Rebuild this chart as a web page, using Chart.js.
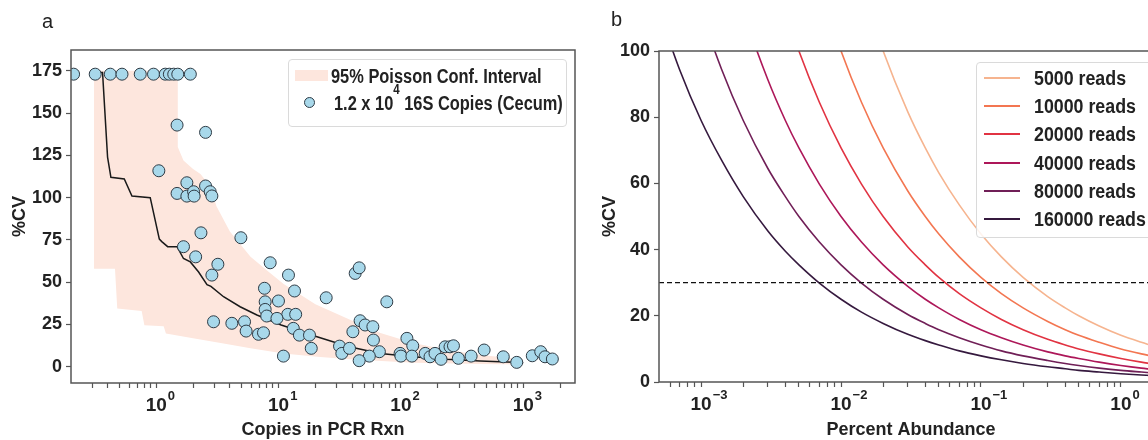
<!DOCTYPE html>
<html>
<head>
<meta charset="utf-8">
<script src="https://cdn.jsdelivr.net/npm/chart.js@4.4.1/dist/chart.umd.min.js"></script>
<style>
  body { margin:0; width:1148px; height:440px; overflow:hidden; background:#fff; position:relative;
         font-family:"Liberation Sans",Arial,sans-serif; }
  .wrap { position:absolute; top:0; height:440px; }
  .tag { position:absolute; font:20px "Liberation Sans",Arial,sans-serif; color:#222; }
  .legend { position:absolute; background:rgba(255,255,255,0.85); border:1px solid #dadada; border-radius:4px; box-sizing:border-box; }
  .txt { position:absolute; font-weight:bold; font-size:20px; line-height:20px; color:#222; white-space:nowrap;
         transform-origin:left center; }
  .txt sup { font-size:14px; position:relative; top:-4px; vertical-align:top; line-height:0; }
  .patch { position:absolute; width:33px; height:11px; background:#fde6dd; }
  .dot { position:absolute; width:11px; height:11px; border-radius:50%; background:#a8d8ea; border:1px solid #2e3b45; box-sizing:border-box; }
  .ln { position:absolute; width:36px; height:2px; }
</style>
</head>
<body>
<div class="wrap" style="left:0;width:590px"><canvas id="chartA"></canvas></div>
<div class="wrap" style="left:600px;width:600px"><canvas id="chartB"></canvas></div>
<div class="tag" style="left:42px;top:10px">a</div>
<div class="tag" style="left:611px;top:8px">b</div>

<div class="legend" style="left:288px;top:59px;width:279px;height:68px">
  <div class="patch" style="left:6px;top:10px"></div>
  <div class="txt" style="left:42px;top:6px;transform:scaleX(0.82)">95% Poisson Conf. Interval</div>
  <div class="dot" style="left:15px;top:37px"></div>
  <div class="txt" style="left:45px;top:33px;transform:scaleX(0.82)">1.2 x 10<sup>4</sup> 16S Copies (Cecum)</div>
</div>

<div class="legend" id="legB" style="left:976px;top:62px;width:200px;height:176px"></div>

<script>
// panel a : scatter of %CV vs copies
var topRowX = [0.211, 0.317, 0.421, 0.525, 0.74, 0.95, 1.185, 1.28, 1.39, 1.5, 1.9];
var copiesX = topRowX.concat([
  1.48, 2.53, 1.05, 1.78, 1.48, 1.78, 2.02, 2.04, 2.53, 2.76, 2.85,
  2.32, 4.92, 1.67, 2.10, 3.19, 2.85, 8.54, 12.05, 13.5, 7.67, 24.5,
  9.98, 7.77, 7.77, 11.9, 13.8, 8.0, 9.7, 2.94, 4.15, 5.27, 5.43,
  6.85, 7.53, 13.2, 14.8, 17.9, 18.5, 10.96, 31.5, 32.9, 38, 42.3,
  45.6, 76.7, 46.4, 51, 59, 40.5, 59.6, 66.7, 55.2, 45.6, 98.5, 100,
  112, 125, 123, 158, 173, 190, 213, 230, 252, 269, 295, 375, 479,
  687, 885, 1186, 1390, 1507, 1730]);
var cvA = [173, 173, 173, 173, 173, 173, 173, 173, 173, 173, 173,
  142.9, 138.6, 115.9, 108.8, 102.5, 100.9, 103.5, 100.9, 106.9, 103.5, 101,
  79.2, 76.3, 71, 65, 60.6, 54.2, 61.5, 54.2, 44.8, 46.4, 40.8,
  38.9, 38.4, 33.9, 31, 31, 30, 28.6, 26.6, 25.7, 26.6, 21.1,
  19.2, 20.1, 22.7, 18.7, 18.7, 10.9, 6.3, 12.2, 7.9, 10.9, 55.2,
  58.5, 38.4, 27.2, 24.7, 23.7, 20.7, 15.8, 8.9, 6.3, 3.6, 7.9, 6.3,
  16.8, 12.4, 6.3, 7.9, 5.9, 7.9, 4.4, 11.8, 11.8, 12.4, 5, 6.3, 9.9,
  5.9, 2.6, 6.5, 8.9, 5.9, 4.6];

var medianX = [0.318, 0.364, 0.40, 0.426, 0.548, 0.633, 0.893, 1.06, 1.11, 1.24, 1.48, 1.67, 1.9, 2.22,
  2.6, 2.8, 3.55, 4.85, 6.65, 10.5, 20, 37, 68, 126, 237, 444, 830, 1000];
var medianY = [174, 174, 124, 112, 111, 101, 100, 75.5, 74, 71, 71, 64, 62, 56,
  48.5, 47.5, 41.4, 35.5, 30.6, 24.7, 18, 12, 7.9, 5.9, 4.4, 3.4, 2.6, 2.4];

var bandHiX = [0.31, 1.5, 1.5, 1.67, 2.0, 2.3, 2.8, 3.1, 4.0, 5.9, 8.0, 11, 20, 38, 68, 126, 237, 444, 830, 1000];
var bandHiY = [175, 175, 130, 122, 117, 114, 106, 95, 80, 65, 57, 49, 37, 28, 20, 14, 10, 7, 5, 4.4];
var bandLoX = [0.31, 0.46, 0.48, 0.76, 0.8, 1.15, 1.2, 2.0, 3.55, 5.9, 11, 20.6, 38.5, 126, 444, 1000];
var bandLoY = [58, 58, 34.5, 33, 24.6, 24, 19.7, 16.8, 13.8, 10.9, 7.9, 5.9, 4.4, 2.4, 1.6, 1.3];

var cvTicksA = [0, 25, 50, 75, 100, 125, 150, 175];

// panel b : %CV vs percent abundance for read depths
var abundance = [0.0005, 0.0007, 0.001, 0.0014, 0.002, 0.003, 0.004, 0.005, 0.007, 0.01, 0.014, 0.02, 0.03,
  0.04, 0.05, 0.07, 0.1, 0.14, 0.2, 0.3, 0.4, 0.5, 0.7, 1, 1.4, 2];
var readLabels = ['5000 reads', '10000 reads', '20000 reads', '40000 reads', '80000 reads', '160000 reads'];
var cv5k   = [null, null, null, null, null, null, null, null, 169, 141, 119.5, 100, 81.6, 70.7, 63.2, 53.5, 44.7, 37.8, 31.6, 25.8, 22.4, 20, 16.9, 14.1, 12.0, 10];
var cv10k  = [null, null, null, null, null, null, 158, 141, 119.5, 100, 84.5, 70.7, 57.7, 50, 44.7, 37.8, 31.6, 26.7, 22.4, 18.3, 15.8, 14.1, 12.0, 10, 8.5, 7.1];
var cv20k  = [null, null, null, null, 158, 129, 112, 100, 84.5, 70.7, 59.8, 50, 40.8, 35.4, 31.6, 26.7, 22.4, 18.9, 15.8, 12.9, 11.2, 10, 8.5, 7.1, 6.0, 5.0];
var cv40k  = [null, null, 158, 134, 112, 91.3, 79, 70.7, 59.8, 50, 42.3, 35.4, 28.9, 25, 22.4, 18.9, 15.8, 13.4, 11.2, 9.1, 7.9, 7.1, 6.0, 5.0, 4.2, 3.5];
var cv80k  = [null, 134, 112, 94.5, 79, 64.5, 56, 50, 42.3, 35.4, 29.9, 25, 20.4, 17.7, 15.8, 13.4, 11.2, 9.4, 7.9, 6.5, 5.6, 5.0, 4.2, 3.5, 3.0, 2.5];
var cv160k = [112, 94.5, 79, 67, 56, 45.6, 39.5, 35.4, 29.9, 25, 21.1, 17.7, 14.4, 12.5, 11.2, 9.4, 7.9, 6.7, 5.6, 4.6, 4.0, 3.5, 3.0, 2.5, 2.1, 1.8];
var readColors = ['#f6b48f', '#f37651', '#e13342', '#ad1759', '#701f57', '#35193e'];
var thresholdX = [0.0005, 2];
var thresholdY = [30, 30];
var cvTicksB = [0, 20, 40, 60, 80, 100];

var FAM = '"Liberation Sans", Arial, sans-serif';
Chart.defaults.font.family = FAM;
Chart.defaults.color = '#222';

function pts(xs, ys) {
  return xs.map(function (x, i) { return { x: x, y: ys[i] }; });
}
function decade(v) {
  var l = Math.log10(v);
  return Math.abs(l - Math.round(l)) < 1e-6 ? Math.round(l) : null;
}
function logTicks(min, max) {
  var out = [];
  for (var e = Math.floor(Math.log10(min)); e <= Math.ceil(Math.log10(max)); e++) {
    for (var m = 1; m < 10; m++) {
      var v = parseFloat((m * Math.pow(10, e)).toPrecision(6));
      if (v > min * 1.001 && v < max * 0.999) out.push({ value: v });
    }
  }
  return out;
}

// box round the plot area + the exponents of the "10" tick labels
var frame = {
  id: 'frame',
  afterDraw: function (chart) {
    var a = chart.chartArea, c = chart.ctx, s = chart.scales.x;
    c.save();
    c.strokeStyle = '#555';
    c.lineWidth = 1.5;
    c.strokeRect(a.left, a.top, a.right - a.left, a.bottom - a.top);
    c.fillStyle = '#222';
    c.textBaseline = 'alphabetic';
    c.textAlign = 'left';
    s.ticks.forEach(function (t) {
      var d = decade(t.value);
      if (d === null) return;
      var x = s.getPixelForValue(t.value);
      c.font = 'bold 19px ' + FAM;
      var w = c.measureText('10').width;
      c.font = 'bold 13px ' + FAM;
      c.fillText(String(d).replace('-', '\u2212'), x + w / 2 + 1, s.top + 17);
    });
    c.restore();
  }
};

function xAxis(min, max, title, height) {
  return {
    type: 'logarithmic', min: min, max: max,
    afterFit: function (s) { s.height = height; },
    afterBuildTicks: function (s) { s.ticks = logTicks(min, max); },
    border: { display: false },
    grid: { drawOnChartArea: false, tickLength: 5, tickColor: '#555', tickWidth: 1.2 },
    ticks: { autoSkip: false, maxRotation: 0, minRotation: 0, padding: 6,
             font: { size: 19, weight: 'bold' },
             callback: function (v) { return decade(v) === null ? '' : '10'; } },
    title: { display: true, text: title, font: { size: 18, weight: 'bold', lineHeight: 1 }, padding: { top: 0, bottom: 1 } }
  };
}
function yAxis(min, max, tickVals, width, titlePad) {
  return {
    min: min, max: max,
    afterFit: function (s) { s.width = width; },
    afterBuildTicks: function (s) { s.ticks = tickVals.map(function (v) { return { value: v }; }); },
    border: { display: false },
    grid: { drawOnChartArea: false, tickLength: 5, tickColor: '#555', tickWidth: 1.2 },
    ticks: { padding: 4, font: { size: 18, weight: 'bold' } },
    title: { display: true, text: '%CV', font: { size: 18, weight: 'bold', lineHeight: 1 }, padding: { top: titlePad, bottom: 4 } }
  };
}

new Chart(document.getElementById('chartA'), {
  type: 'scatter',
  data: {
    datasets: [
      { data: pts(copiesX, cvA), pointRadius: 6, pointBackgroundColor: '#a8d8ea',
        pointBorderColor: '#2e3b45', pointBorderWidth: 1, clip: 0 },
      { data: pts(medianX, medianY), showLine: true, borderColor: '#1a1a1a', borderWidth: 1.5, pointRadius: 0 },
      { data: pts(bandHiX, bandHiY), showLine: true, borderWidth: 0, pointRadius: 0, fill: false },
      { data: pts(bandLoX, bandLoY), showLine: true, borderWidth: 0, pointRadius: 0,
        fill: '-1', backgroundColor: '#fde6dd' }
    ]
  },
  options: {
    responsive: true, maintainAspectRatio: false, animation: false,
    layout: { padding: { top: 50, right: 15, left: 0, bottom: 0 } },
    plugins: { legend: { display: false }, tooltip: { enabled: false } },
    scales: {
      x: xAxis(0.201, 2650, 'Copies in PCR Rxn', 57),
      y: yAxis(-9.6, 187.3, cvTicksA, 71, 11)
    }
  },
  plugins: [frame]
});

var readSeries = [cv5k, cv10k, cv20k, cv40k, cv80k, cv160k];
var dsB = [{ data: pts(thresholdX, thresholdY), showLine: true, borderColor: '#111', borderWidth: 1.3,
             borderDash: [5, 3], pointRadius: 0 }];
readSeries.forEach(function (s, i) {
  dsB.push({ data: pts(abundance, s), showLine: true, borderColor: readColors[i], borderWidth: 1.6,
             pointRadius: 0, cubicInterpolationMode: 'monotone', clip: 0 });
});

new Chart(document.getElementById('chartB'), {
  type: 'scatter',
  data: { datasets: dsB },
  options: {
    responsive: true, maintainAspectRatio: false, animation: false,
    layout: { padding: { top: 51, right: 37, left: 0, bottom: 0 } },
    plugins: { legend: { display: false }, tooltip: { enabled: false } },
    scales: {
      x: xAxis(0.0005, 2, 'Percent Abundance', 58),
      y: yAxis(0, 100, cvTicksB, 59, 1)
    }
  },
  plugins: [frame]
});

// legend for panel b
var leg = document.getElementById('legB');
readLabels.forEach(function (lab, i) {
  var cy = 14.7 + 28.3 * i;
  var l = document.createElement('div');
  l.className = 'ln';
  l.style.cssText = 'left:7px;top:' + (cy - 1) + 'px;background:' + readColors[i];
  leg.appendChild(l);
  var t = document.createElement('div');
  t.className = 'txt';
  t.style.cssText = 'left:57px;top:' + (cy - 10) + 'px;transform:scaleX(0.89)';
  t.textContent = lab;
  leg.appendChild(t);
});
</script>
</body>
</html>
